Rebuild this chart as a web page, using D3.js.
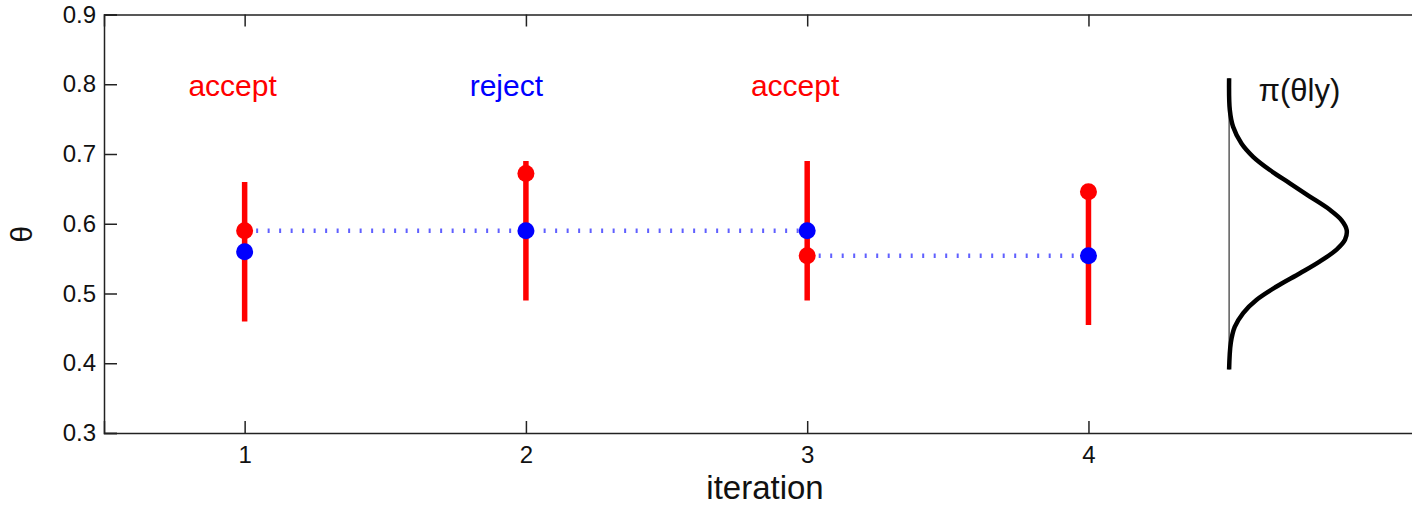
<!DOCTYPE html>
<html>
<head>
<meta charset="utf-8">
<script src="https://cdn.jsdelivr.net/npm/d3@7"></script>
<style>
  body { margin: 0; background: #fff; }
  svg { display: block; font-family: "Liberation Sans", Arial, Helvetica, sans-serif; }
</style>
</head>
<body>
<svg id="chart"></svg>
<script>
// Data
const iterations = [1, 2, 3, 4];
const proposals = [0.59, 0.672, 0.554, 0.646];   // red dots
const current = [0.56, 0.59, 0.59, 0.554];       // blue dots
const intervalLo = [0.46, 0.49, 0.49, 0.455];
const intervalHi = [0.66, 0.69, 0.69, 0.655];
const decisions = ["accept", "reject", "accept", null];
const chainSegments = [[1, 3, 0.59], [3, 4, 0.554]]; // [from, to, theta]
const yTicks = [0.3, 0.4, 0.5, 0.6, 0.7, 0.8, 0.9];

// posterior curve: theta and horizontal offset (in iteration units)
const densityTheta = [0.8085, 0.763, 0.739, 0.715, 0.696, 0.677, 0.658, 0.639, 0.620, 0.605, 0.591,
  0.577, 0.563, 0.546, 0.529, 0.510, 0.491, 0.472, 0.452, 0.429, 0.391];
const densityOffset = [0, 0.0025, 0.0142, 0.044, 0.0854, 0.145, 0.216, 0.287, 0.358, 0.400, 0.418,
  0.412, 0.382, 0.323, 0.252, 0.169, 0.098, 0.050, 0.020, 0.006, 0];
const densityBase = 4.5;

const W = 1412, H = 507;
const margin = { top: 14.5, right: -14, bottom: 74, left: 104 };
const width = W - margin.left - margin.right;
const height = H - margin.top - margin.bottom;

const svg = d3.select("#chart").attr("width", W).attr("height", H);
const g = svg.append("g").attr("transform", `translate(${margin.left},${margin.top})`);

const x = d3.scaleLinear().domain([0.5, 5.2]).range([0, width]);
const y = d3.scaleLinear().domain([0.3, 0.9]).range([height, 0]);

// axes (ticks inward)
const axisColor = "#222";
const bottomAxis = g.append("g")
  .attr("transform", `translate(0,${height})`)
  .call(d3.axisBottom(x).tickValues(iterations).tickSize(-12).tickPadding(13).tickFormat(d3.format("d")));
const topAxis = g.append("g")
  .call(d3.axisTop(x).tickValues(iterations).tickSize(-12).tickFormat(""));
const leftAxis = g.append("g")
  .call(d3.axisLeft(y).tickValues(yTicks).tickSize(-13).tickPadding(8).tickFormat(d3.format(".1f")));

[bottomAxis, topAxis, leftAxis].forEach(a => {
  a.select(".domain").attr("stroke", axisColor).attr("stroke-width", 1.5);
  a.selectAll(".tick line").attr("stroke", axisColor).attr("stroke-width", 1.5);
  a.selectAll(".tick text").attr("fill", "#111").style("font-size", "24px")
    .style("font-family", "'Liberation Sans', Arial, sans-serif");
});

// axis labels (centred on the full axes box, which runs past the right edge)
svg.append("text")
  .attr("x", margin.left + x(2.85))
  .attr("y", 499)
  .attr("text-anchor", "middle")
  .style("font-size", "33px")
  .attr("fill", "#111")
  .text("iteration");

svg.append("text")
  .attr("transform", `translate(32,${margin.top + y(0.585)}) rotate(-90)`)
  .attr("text-anchor", "middle")
  .style("font-size", "30px")
  .attr("fill", "#111")
  .text("θ");

// proposal intervals
g.selectAll(".interval")
  .data(iterations)
  .enter().append("line")
  .attr("x1", d => x(d)).attr("x2", d => x(d))
  .attr("y1", (d, i) => y(intervalLo[i]))
  .attr("y2", (d, i) => y(intervalHi[i]))
  .attr("stroke", "#ff0000")
  .attr("stroke-width", 5.5);

// chain (dotted blue)
g.selectAll(".chain")
  .data(chainSegments)
  .enter().append("line")
  .attr("x1", d => x(d[0])).attr("x2", d => x(d[1]))
  .attr("y1", d => y(d[2])).attr("y2", d => y(d[2]))
  .attr("stroke", "#6060ff")
  .attr("stroke-width", 4.5)
  .attr("stroke-dasharray", "2,9.5");

// proposal dots
g.selectAll(".prop")
  .data(iterations)
  .enter().append("circle")
  .attr("cx", d => x(d))
  .attr("cy", (d, i) => y(proposals[i]))
  .attr("r", 8.5)
  .attr("fill", "#ff0000");

// current state dots
g.selectAll(".cur")
  .data(iterations)
  .enter().append("circle")
  .attr("cx", d => x(d))
  .attr("cy", (d, i) => y(current[i]))
  .attr("r", 8.5)
  .attr("fill", "#0000ff");

// accept / reject labels
g.selectAll(".decision")
  .data(iterations.filter((d, i) => decisions[i]))
  .enter().append("text")
  .attr("x", d => x(d - 0.2))
  .attr("y", y(0.8))
  .attr("dy", "0.4em")
  .style("font-size", "30px")
  .attr("fill", d => decisions[iterations.indexOf(d)] === "accept" ? "#ff0000" : "#0000ff")
  .text(d => decisions[iterations.indexOf(d)]);

// posterior density
g.append("line")
  .attr("x1", x(densityBase)).attr("x2", x(densityBase))
  .attr("y1", y(d3.min(densityTheta))).attr("y2", y(d3.max(densityTheta)))
  .attr("stroke", "#333")
  .attr("stroke-width", 1.2);

g.append("path")
  .datum(densityTheta.map((t, i) => [densityBase + densityOffset[i], t]))
  .attr("d", d3.line().x(d => x(d[0])).y(d => y(d[1])).curve(d3.curveCatmullRom))
  .attr("fill", "none")
  .attr("stroke", "#000")
  .attr("stroke-width", 4.5);

g.append("text")
  .attr("x", x(4.75))
  .attr("y", y(0.8))
  .attr("dy", "0.55em")
  .attr("text-anchor", "middle")
  .style("font-size", "31px")
  .attr("fill", "#111")
  .text("π(θly)");
</script>
</body>
</html>
